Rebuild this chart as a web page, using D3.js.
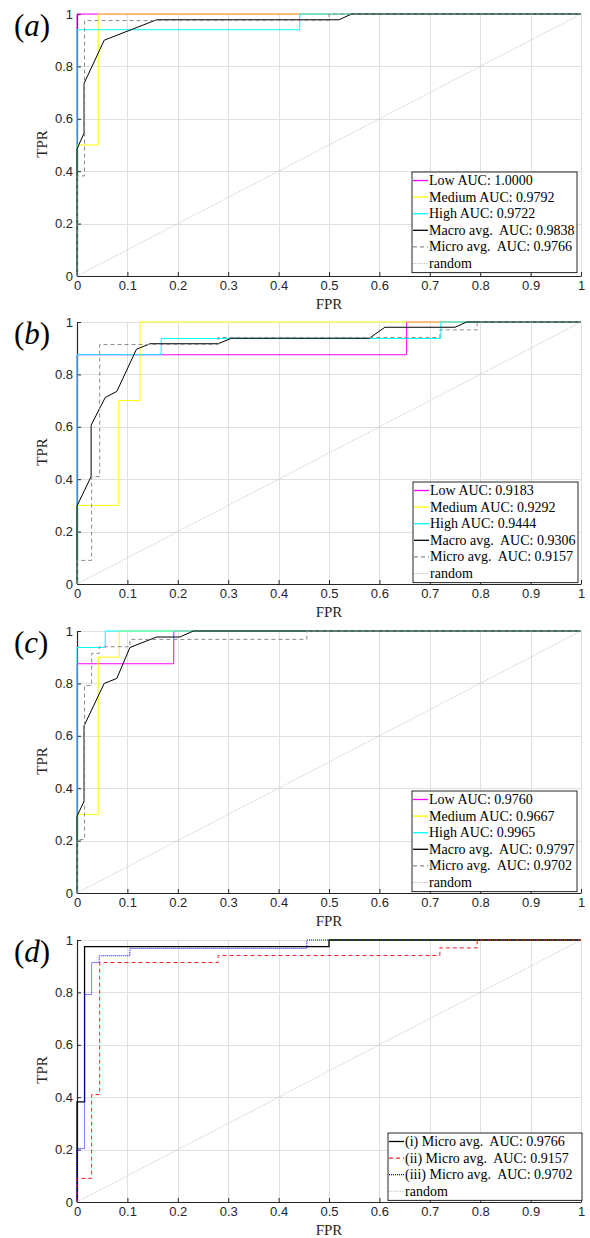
<!DOCTYPE html>
<html>
<head>
<meta charset="utf-8">
<script src="https://cdn.jsdelivr.net/npm/d3@7"></script>
<style>
  body { margin: 0; background: #fff; }
  svg { display: block; }
</style>
</head>
<body>
<div id="chart"></div>
<script>
// ticks shared by every panel
var xTicks = [0, 0.1, 0.2, 0.3, 0.4, 0.5, 0.6, 0.7, 0.8, 0.9, 1];
var yTicks = [0, 0.2, 0.4, 0.6, 0.8, 1];
var randomLine = [[0, 0], [1, 1]];

// panel (a) roc points [fpr, tpr]
var aLow = [[0, 0], [0, 1], [1, 1]];
var aMedium = [[0, 0], [0, 0.5], [0.042, 0.5], [0.042, 1], [1, 1]];
var aHigh = [[0, 0], [0, 0.94], [0.442, 0.94], [0.442, 1], [1, 1]];
var aMacro = [[0, 0], [0, 0.485], [0.014, 0.545], [0.014, 0.735], [0.054, 0.9],
              [0.158, 0.978], [0.52, 0.978], [0.545, 1], [1, 1]];

// micro averages (same curves reused in panel d)
var microI = [[0, 0], [0, 0.382], [0.015, 0.382], [0.015, 0.975], [0.5, 0.975], [0.5, 1], [1, 1]];
var microII = [[0, 0], [0, 0.09], [0.029, 0.09], [0.029, 0.41], [0.045, 0.41], [0.045, 0.914],
               [0.28, 0.914], [0.28, 0.941], [0.72, 0.941], [0.72, 0.97], [0.794, 0.97], [0.794, 1], [1, 1]];
var microIII = [[0, 0], [0, 0.204], [0.015, 0.204], [0.015, 0.792], [0.029, 0.792], [0.029, 0.914],
                [0.044, 0.914], [0.044, 0.94], [0.105, 0.94], [0.105, 0.968], [0.456, 0.968], [0.456, 1], [1, 1]];

// panel (b)
var bLow = [[0, 0], [0, 0.875], [0.654, 0.875], [0.654, 1], [1, 1]];
var bMedium = [[0, 0], [0, 0.3], [0.083, 0.3], [0.083, 0.7], [0.125, 0.7], [0.125, 1], [1, 1]];
var bHigh = [[0, 0], [0, 0.875], [0.167, 0.875], [0.167, 0.937], [0.722, 0.937], [0.722, 1], [1, 1]];
var bMacro = [[0, 0], [0, 0.298], [0.028, 0.41], [0.028, 0.606], [0.056, 0.712], [0.079, 0.735],
              [0.118, 0.896], [0.145, 0.917], [0.28, 0.917], [0.307, 0.938], [0.58, 0.938],
              [0.611, 0.98], [0.75, 0.98], [0.773, 1], [1, 1]];

// panel (c)
var cLow = [[0, 0], [0, 0.875], [0.192, 0.875], [0.192, 1], [1, 1]];
var cMedium = [[0, 0], [0, 0.3], [0.042, 0.3], [0.042, 0.9], [0.084, 0.9], [0.084, 1], [1, 1]];
var cHigh = [[0, 0], [0, 0.937], [0.056, 0.937], [0.056, 1], [1, 1]];
var cMacro = [[0, 0], [0, 0.293], [0.014, 0.35], [0.014, 0.638], [0.054, 0.8], [0.079, 0.819],
              [0.105, 0.937], [0.158, 0.977], [0.204, 0.977], [0.231, 1], [1, 1]];

// legend texts
var aNames = ["Low AUC: 1.0000", "Medium AUC: 0.9792", "High AUC: 0.9722",
              "Macro avg.\u00a0 AUC: 0.9838", "Micro avg.\u00a0 AUC: 0.9766", "random"];
var bNames = ["Low AUC: 0.9183", "Medium AUC: 0.9292", "High AUC: 0.9444",
              "Macro avg.\u00a0 AUC: 0.9306", "Micro avg.\u00a0 AUC: 0.9157", "random"];
var cNames = ["Low AUC: 0.9760", "Medium AUC: 0.9667", "High AUC: 0.9965",
              "Macro avg.\u00a0 AUC: 0.9797", "Micro avg.\u00a0 AUC: 0.9702", "random"];
var dNames = ["(i) Micro avg.\u00a0 AUC: 0.9766", "(ii) Micro avg.\u00a0 AUC: 0.9157",
              "(iii) Micro avg.\u00a0 AUC: 0.9702", "random"];

// line styles
var sLow = {color: "#ff00ff", width: 1, dash: null};
var sMed = {color: "#ffff00", width: 1, dash: null};
var sHigh = {color: "#00ffff", width: 1, dash: null};
var sMacro = {color: "#000", width: 1, dash: null};
var sMicro = {color: "#8c8c8c", width: 1, dash: "4,3"};
var sRand = {color: "#a8a8a8", width: 0.6, dash: "1.2,1"};

var panels = [
  {tag: "a", top: 14, curves: [aLow, aMedium, aHigh, aMacro, microI, randomLine],
   styles: [sLow, sMed, sHigh, sMacro, sMicro, sRand], names: aNames, legend: {x: 412, y: 172, w: 165}},
  {tag: "b", top: 322, curves: [bLow, bMedium, bHigh, bMacro, microII, randomLine],
   styles: [sLow, sMed, sHigh, sMacro, sMicro, sRand], names: bNames, legend: {x: 413, y: 482, w: 165}},
  {tag: "c", top: 631, curves: [cLow, cMedium, cHigh, cMacro, microIII, randomLine],
   styles: [sLow, sMed, sHigh, sMacro, sMicro, sRand], names: cNames, legend: {x: 412, y: 791, w: 165}},
  {tag: "d", top: 940, curves: [microI, microII, microIII, randomLine],
   styles: [{color: "#000", width: 1.3, dash: null}, {color: "#ff2020", width: 1, dash: "4,3"},
            {color: "#0000ff", width: 1, dash: "1,1"}, sRand],
   names: dNames, legend: {x: 388, y: 1133, w: 194}}
];

var width = 590, height = 1238,
    plotLeft = 77, plotRight = 581, plotH = 262,
    rowH = 16.6,
    tickFont = "'Liberation Sans', Arial, sans-serif",
    serif = "'Liberation Serif', 'Times New Roman', serif";

var svg = d3.select("#chart").append("svg")
    .attr("width", width)
    .attr("height", height);

var x = d3.scaleLinear().domain([0, 1]).range([plotLeft, plotRight]);
var y = d3.scaleLinear().domain([0, 1]).range([plotH, 0]);

var line = d3.line()
    .x(d => x(d[0]))
    .y(d => y(d[1]));

panels.forEach(function(p){
  var g = svg.append("g").attr("transform", "translate(0," + p.top + ")");

  // grid lines
  g.append("g").selectAll("line.vg").data(xTicks).enter().append("line")
      .attr("x1", d => Math.round(x(d)) + 0.5).attr("x2", d => Math.round(x(d)) + 0.5)
      .attr("y1", 0).attr("y2", plotH)
      .attr("stroke", "#e0e0e0").attr("stroke-width", 1);
  g.append("g").selectAll("line.hg").data(yTicks).enter().append("line")
      .attr("x1", plotLeft).attr("x2", plotRight)
      .attr("y1", d => Math.round(y(d)) + 0.5).attr("y2", d => Math.round(y(d)) + 0.5)
      .attr("stroke", "#e0e0e0").attr("stroke-width", 1);

  // axes, ticks pointing inwards like matlab
  var xAxis = d3.axisBottom(x).tickValues(xTicks).tickSizeInner(-4).tickSizeOuter(0).tickPadding(5)
      .tickFormat(d => d3.format("")(+d.toFixed(1)));
  var yAxis = d3.axisLeft(y).tickValues(yTicks).tickSizeInner(-4).tickSizeOuter(0).tickPadding(4)
      .tickFormat(d => d3.format("")(+d.toFixed(1)));

  var gx = g.append("g").attr("transform", "translate(0," + plotH + ")").call(xAxis);
  var gy = g.append("g").attr("transform", "translate(" + plotLeft + ",0)").call(yAxis);
  [gx, gy].forEach(function(a){
    a.select(".domain").attr("stroke", "#262626").attr("stroke-width", 1.2);
    a.selectAll(".tick line").attr("stroke", "#262626");
    a.selectAll(".tick text").attr("fill", "#262626")
        .style("font-family", tickFont).style("font-size", "13px");
  });

  // curves
  p.curves.forEach(function(c, i){
    var s = p.styles[i];
    g.append("path")
        .attr("d", line(c))
        .attr("fill", "none")
        .attr("stroke", s.color)
        .attr("stroke-width", s.width)
        .attr("stroke-dasharray", s.dash);
  });

  // axis labels
  g.append("text")
      .attr("x", (plotLeft + plotRight) / 2)
      .attr("y", plotH + 33)
      .attr("text-anchor", "middle")
      .style("font-family", serif).style("font-size", "15px")
      .attr("fill", "#262626")
      .text("FPR");
  g.append("text")
      .attr("transform", "translate(47," + (plotH / 2 - 1) + ") rotate(-90)")
      .attr("text-anchor", "middle")
      .style("font-family", serif).style("font-size", "15px")
      .attr("fill", "#262626")
      .text("TPR");

  // panel tag like $(a)$
  var tag = g.append("text")
      .attr("x", 14).attr("y", 22)
      .style("font-family", serif).style("font-size", "31px")
      .attr("fill", "#000");
  tag.append("tspan").text("(");
  tag.append("tspan").style("font-style", "italic").text(p.tag);
  tag.append("tspan").text(")");

  // legend box
  var lg = p.legend, ly = lg.y - p.top;
  var legend = g.append("g").attr("transform", "translate(" + lg.x + "," + ly + ")");
  legend.append("rect")
      .attr("width", lg.w).attr("height", p.names.length * rowH + 1)
      .attr("fill", "#fff").attr("stroke", "#262626").attr("stroke-width", 1);
  p.names.forEach(function(n, i){
    var s = p.styles[i], cy = 8.5 + i * rowH;
    legend.append("line")
        .attr("x1", 1).attr("x2", 16).attr("y1", cy).attr("y2", cy)
        .attr("stroke", s.color).attr("stroke-width", s.width < 1 ? 0.7 : 1.3)
        .attr("stroke-dasharray", s.dash);
    legend.append("text")
        .attr("x", 17).attr("y", cy + 4.5)
        .style("font-family", serif).style("font-size", "14px")
        .attr("fill", "#000")
        .text(n);
  });
});
</script>
</body>
</html>
